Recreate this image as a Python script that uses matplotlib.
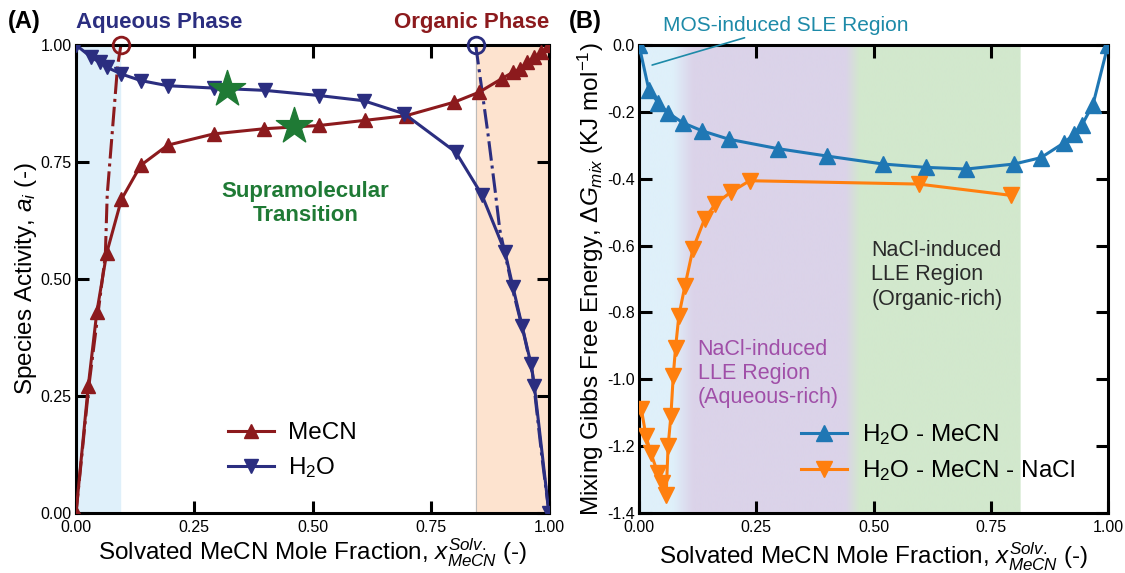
import matplotlib.pyplot as plt
import matplotlib.colors as mcolors
import numpy as np

plt.rcParams['font.family'] = ['Liberation Sans', 'DejaVu Sans']
plt.rcParams['mathtext.fontset'] = 'custom'
plt.rcParams['mathtext.rm'] = 'Liberation Sans'
plt.rcParams['mathtext.it'] = 'Liberation Sans:italic'

# ---- panel A: species activity ----
x_mecn = [0.0, 0.026, 0.044, 0.065, 0.096, 0.137, 0.194, 0.291, 0.397, 0.514, 0.611,
          0.698, 0.80, 0.852, 0.90, 0.924, 0.939, 0.954, 0.969, 0.984, 1.0]
a_mecn = [0.0, 0.272, 0.429, 0.556, 0.67, 0.743, 0.786, 0.81, 0.821, 0.828, 0.839,
          0.849, 0.878, 0.899, 0.928, 0.942, 0.949, 0.963, 0.974, 0.984, 1.0]
x_h2o = [0.0, 0.032, 0.05, 0.066, 0.096, 0.137, 0.194, 0.291, 0.40, 0.514, 0.608,
         0.694, 0.803, 0.858, 0.907, 0.924, 0.943, 0.962, 0.969, 1.0]
a_h2o = [1.0, 0.974, 0.963, 0.952, 0.938, 0.924, 0.913, 0.908, 0.903, 0.892, 0.881,
         0.853, 0.771, 0.68, 0.558, 0.482, 0.40, 0.318, 0.272, 0.0]
# dash-dot model curves ending at the open circles
x_mecn_model = [0.0, 0.027, 0.062, 0.066, 0.088, 0.095]
a_mecn_model = [0.0, 0.27, 0.55, 0.68, 0.956, 1.0]
x_h2o_model = [0.845, 0.871, 0.886, 0.896, 0.925, 0.945, 0.965, 0.985, 1.0]
a_h2o_model = [1.0, 0.81, 0.69, 0.605, 0.47, 0.39, 0.30, 0.12, 0.0]
star_x = [0.32, 0.461]
star_y = [0.906, 0.826]

# ---- panel B: mixing Gibbs free energy ----
x_bin = [0.0, 0.021, 0.041, 0.062, 0.094, 0.135, 0.192, 0.296, 0.40, 0.52, 0.611,
         0.698, 0.80, 0.857, 0.907, 0.927, 0.945, 0.968, 1.0]
g_bin = [0.0, -0.134, -0.173, -0.203, -0.233, -0.257, -0.282, -0.31, -0.332, -0.356,
         -0.366, -0.371, -0.356, -0.337, -0.292, -0.267, -0.238, -0.178, 0.0]
x_salt = [0.005, 0.015, 0.025, 0.04, 0.05, 0.058, 0.062, 0.068, 0.073, 0.078, 0.085,
          0.098, 0.115, 0.14, 0.163, 0.196, 0.236, 0.596, 0.794]
g_salt = [-1.09, -1.17, -1.22, -1.28, -1.31, -1.345, -1.20, -1.11, -0.99, -0.905, -0.81,
          -0.72, -0.61, -0.52, -0.475, -0.44, -0.406, -0.416, -0.45]

red = '#8c1a1d'
navy = '#2b2e80'
green = '#1f7a35'

fig = plt.figure(figsize=(11.25, 5.73), dpi=100)
axA = fig.add_axes([76 / 1125, 1 - 513 / 573, 473 / 1125, 468 / 573])
axB = fig.add_axes([639 / 1125, 1 - 513 / 573, 469 / 1125, 468 / 573])


def style_axes(ax):
    for s in ax.spines.values():
        s.set_linewidth(2.2)
    ax.tick_params(direction='in', length=9, width=2.2, top=True, right=True,
                   labelsize=11.5, pad=3)


# panel A
axA.axvspan(0, 0.093, color='#dff0fa', zorder=0)
axA.axvspan(0.845, 1.0, color='#fde3cf', zorder=0)
axA.axvline(0.845, color='#bbbbbb', lw=0.8, zorder=0)
axA.plot(x_mecn_model, a_mecn_model, color=red, lw=2.2, ls='-.', zorder=2)
axA.plot(x_h2o_model, a_h2o_model, color=navy, lw=2.2, ls='-.', zorder=2)
axA.plot([x_mecn_model[-1]], [1.0], 'o', ms=12, mfc='none', mec=red, mew=2, clip_on=False, zorder=5)
axA.plot([x_h2o_model[0]], [1.0], 'o', ms=12, mfc='none', mec=navy, mew=2, clip_on=False, zorder=5)
axA.plot(x_mecn, a_mecn, color=red, lw=2.2, marker='^', ms=10, label='MeCN', zorder=3)
axA.plot(x_h2o, a_h2o, color=navy, lw=2.2, marker='v', ms=10, label='H$_2$O', zorder=3)
axA.scatter(star_x, star_y, marker='*', s=750, color=green, zorder=4)
axA.text(0.485, 0.662, 'Supramolecular\nTransition', color=green, fontsize=16,
         fontweight='bold', ha='center', va='center', linespacing=1.2)
axA.set_xlim(0, 1)
axA.set_ylim(0, 1)
axA.set_xticks([0, 0.25, 0.5, 0.75, 1.0])
axA.set_yticks([0, 0.25, 0.5, 0.75, 1.0])
axA.xaxis.set_major_formatter(plt.FormatStrFormatter('%.2f'))
axA.yaxis.set_major_formatter(plt.FormatStrFormatter('%.2f'))
style_axes(axA)
axA.tick_params(axis='x', pad=5)
axA.set_xlabel('Solvated MeCN Mole Fraction, $x^{Solv.}_{MeCN}$ (-)', fontsize=17.5, labelpad=1)
axA.set_ylabel('Species Activity, $a_i$ (-)', fontsize=17.5, labelpad=1)
axA.legend(loc='center left', bbox_to_anchor=(0.30, 0.132), frameon=False, fontsize=17.5,
           handlelength=1.9, borderaxespad=0, labelspacing=0.45, handletextpad=0.6)
axA.text(-0.145, 1.025, '(A)', transform=axA.transAxes, fontsize=17, fontweight='bold',
         va='bottom')
axA.text(0.0, 1.025, 'Aqueous Phase', transform=axA.transAxes, fontsize=16,
         fontweight='bold', color=navy, va='bottom')
axA.text(1.0, 1.025, 'Organic Phase', transform=axA.transAxes, fontsize=16,
         fontweight='bold', color=red, va='bottom', ha='right')

# panel B background bands
stops = [0.0, 0.072, 0.115, 0.44, 0.47, 0.812, 0.8121, 1.0]
cols = ['#dff0fa', '#dff0fa', '#dbd3e9', '#dbd3e9', '#d2e8cd', '#d2e8cd', '#ffffff', '#ffffff']
rgb = np.array([mcolors.to_rgb(c) for c in cols])
xs = np.linspace(0, 1, 1000)
img = np.stack([np.interp(xs, stops, rgb[:, k]) for k in range(3)], axis=-1)[None, :, :]
axB.imshow(img, extent=[0, 1, -1.4, 0], aspect='auto', zorder=0, interpolation='bilinear')

axB.plot(x_bin, g_bin, color='#1f77b4', lw=2.2, marker='^', ms=11, label='H$_2$O - MeCN', zorder=3)
axB.plot(x_salt, g_salt, color='#ff7f0e', lw=2.2, marker='v', ms=11,
         label='H$_2$O - MeCN - NaCl', zorder=3)
axB.set_xlim(0, 1)
axB.set_ylim(-1.4, 0)
axB.set_xticks([0, 0.25, 0.5, 0.75, 1.0])
axB.set_yticks([0, -0.2, -0.4, -0.6, -0.8, -1.0, -1.2, -1.4])
axB.xaxis.set_major_formatter(plt.FormatStrFormatter('%.2f'))
axB.yaxis.set_major_formatter(plt.FormatStrFormatter('%.1f'))
style_axes(axB)
axB.tick_params(axis='x', pad=5)
axB.set_xlabel('Solvated MeCN Mole Fraction, $x^{Solv.}_{MeCN}$ (-)', fontsize=17.5, labelpad=4)
axB.set_ylabel('Mixing Gibbs Free Energy, $\\Delta G_{mix}$ (KJ mol$^{-1}$)', fontsize=17.5,
               labelpad=1)
axB.legend(loc='center left', bbox_to_anchor=(0.325, 0.129), frameon=False, fontsize=17.5,
           handlelength=1.9, borderaxespad=0, labelspacing=0.45, handletextpad=0.6)
axB.text(0.495, -0.688, 'NaCl-induced\nLLE Region\n(Organic-rich)', color='#2a2a2a',
         fontsize=15.5, va='center', ha='left', linespacing=1.2)
axB.text(0.125, -0.982, 'NaCl-induced\nLLE Region\n(Aqueous-rich)', color='#a04fa8',
         fontsize=15.5, va='center', ha='left', linespacing=1.2)
axB.annotate('MOS-induced SLE Region', xy=(0.028, -0.06), xytext=(0.052, 0.03),
             textcoords='data', color='#1d8aa8', fontsize=15, va='bottom', ha='left',
             annotation_clip=False,
             arrowprops=dict(arrowstyle='-', color='#1d8aa8', lw=1.2, shrinkA=0, shrinkB=0))
axB.text(-0.15, 1.025, '(B)', transform=axB.transAxes, fontsize=17, fontweight='bold',
         va='bottom')

fig.savefig('out.png', dpi=100)
